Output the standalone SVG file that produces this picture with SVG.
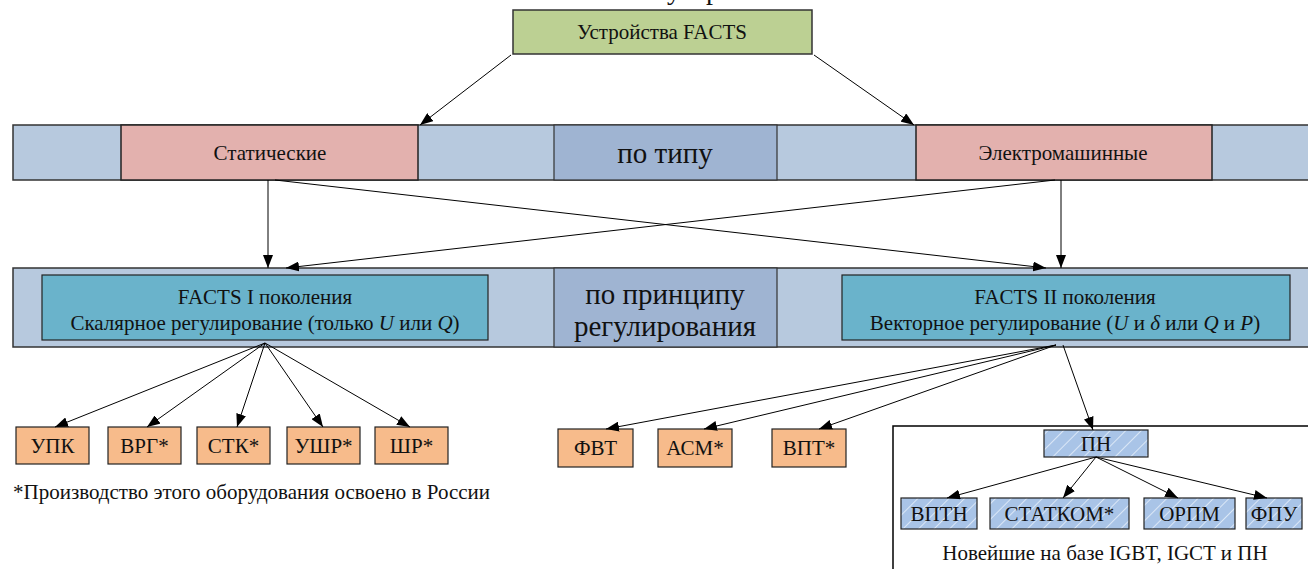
<svg xmlns="http://www.w3.org/2000/svg" width="1308" height="569" viewBox="0 0 1308 569" font-family="'Liberation Serif', 'DejaVu Serif', serif">
<style>
text{font-family:"Liberation Serif","DejaVu Serif",serif;fill:#111;}
.band{fill:#b7c9de;stroke:#333;stroke-width:1.5;}
.seg{fill:#9fb4d2;stroke:#333;stroke-width:1.2;}
.pink{fill:#e3b1ae;stroke:#222;stroke-width:1.5;}
.teal{fill:#6ab3cb;stroke:#222;stroke-width:1.2;}
.org{fill:#f7bb8b;stroke:#222;stroke-width:1.2;}
.hat{fill:url(#hatch);stroke:#222;stroke-width:1.2;}
.c{stroke:#000;stroke-width:1;fill:none;marker-end:url(#ah);}
.m{text-anchor:middle;}
</style>
<defs>
<marker id="ah" markerUnits="userSpaceOnUse" markerWidth="14" markerHeight="10" refX="13" refY="5" orient="auto">
<path d="M0,0 L13,5 L0,10 Z" fill="#000"/>
</marker>
<pattern id="hatch" patternUnits="userSpaceOnUse" width="11" height="11" patternTransform="rotate(45)">
<rect width="11" height="11" fill="#a9c4e7"/>
<line x1="0" y1="0" x2="0" y2="11" stroke="#e8f0fa" stroke-width="1.6"/>
</pattern>
</defs>

<text x="667" y="-1" font-size="28">устройств</text>

<g id="top">
<rect x="513" y="10" width="299" height="44" fill="#bcd093" stroke="#333" stroke-width="1.5"/>
<text x="662" y="39" class="m" font-size="21">Устройства FACTS</text>
</g>

<g id="band1">
<rect class="band" x="13" y="125" width="1310" height="55"/>
<rect class="seg" x="554" y="125" width="223" height="55"/>
<text x="665" y="163" class="m" font-size="29">по типу</text>
</g>
<g id="static">
<rect class="pink" x="121" y="125" width="297" height="55"/>
<text x="270" y="160" class="m" font-size="21">Статические</text>
</g>
<g id="electro">
<rect class="pink" x="916" y="125" width="296" height="55"/>
<text x="1063" y="160" class="m" font-size="21">Электромашинные</text>
</g>

<g id="band2">
<rect class="band" x="13" y="268" width="1310" height="79"/>
<rect class="seg" x="554" y="268" width="223" height="79"/>
<text x="665" y="304" class="m" font-size="29">по принципу</text>
<text x="665" y="336" class="m" font-size="29">регулирования</text>
</g>
<g id="facts1">
<rect class="teal" x="42" y="275" width="446" height="65"/>
<text x="265" y="304" class="m" font-size="21">FACTS I поколения</text>
<text x="265" y="330" class="m" font-size="21">Скалярное регулирование (только <tspan font-style="italic">U</tspan> или <tspan font-style="italic">Q</tspan>)</text>
</g>
<g id="facts2">
<rect class="teal" x="842" y="275" width="448" height="65"/>
<text x="1065" y="304" class="m" font-size="21">FACTS II поколения</text>
<text x="1065" y="330" class="m" font-size="21">Векторное регулирование (<tspan font-style="italic">U</tspan> и <tspan font-style="italic">δ</tspan> или <tspan font-style="italic">Q</tspan> и <tspan font-style="italic">P</tspan>)</text>
</g>

<g id="upk"><rect class="org" x="16" y="427" width="73" height="37"/><text x="52.5" y="453" class="m" font-size="21">УПК</text></g>
<g id="vrg"><rect class="org" x="108" y="427" width="73" height="37"/><text x="144.5" y="453" class="m" font-size="21">ВРГ*</text></g>
<g id="stk"><rect class="org" x="197" y="427" width="73" height="37"/><text x="233.5" y="453" class="m" font-size="21">СТК*</text></g>
<g id="ushr"><rect class="org" x="287" y="427" width="73" height="37"/><text x="323.5" y="453" class="m" font-size="21">УШР*</text></g>
<g id="shr"><rect class="org" x="375" y="427" width="73" height="37"/><text x="411.5" y="453" class="m" font-size="21">ШР*</text></g>
<text x="13" y="499" font-size="21">*Производство этого оборудования освоено в России</text>

<g id="fvt"><rect class="org" x="558" y="429" width="75" height="38"/><text x="595.5" y="455" class="m" font-size="21">ФВТ</text></g>
<g id="asm"><rect class="org" x="658" y="429" width="74" height="38"/><text x="695" y="455" class="m" font-size="21">АСМ*</text></g>
<g id="vpt"><rect class="org" x="772" y="429" width="74" height="38"/><text x="809" y="455" class="m" font-size="21">ВПТ*</text></g>

<g id="panel">
<rect x="893" y="426" width="430" height="160" fill="#fff" stroke="#000" stroke-width="1.5"/>
<text x="1105" y="560" class="m" font-size="21">Новейшие на базе IGBT, IGCT и ПН</text>
</g>
<g id="pn"><rect class="hat" x="1044" y="430" width="104" height="27"/><text x="1096" y="451" class="m" font-size="21">ПН</text></g>
<g id="vptn"><rect class="hat" x="901" y="498" width="76" height="31"/><text x="939" y="521" class="m" font-size="21">ВПТН</text></g>
<g id="statkom"><rect class="hat" x="990" y="498" width="139" height="31"/><text x="1059.5" y="521" class="m" font-size="21">СТАТКОМ*</text></g>
<g id="orpm"><rect class="hat" x="1144" y="498" width="91" height="31"/><text x="1189.5" y="521" class="m" font-size="21">ОРПМ</text></g>
<g id="fpu"><rect class="hat" x="1246" y="498" width="56" height="31"/><text x="1274" y="521" class="m" font-size="21">ФПУ</text></g>

<g id="connectors">
<line class="c" x1="511" y1="55" x2="420" y2="125"/>
<line class="c" x1="814" y1="55" x2="914" y2="125"/>
<line class="c" x1="268" y1="180" x2="268" y2="268"/>
<line class="c" x1="275" y1="180" x2="1046" y2="268"/>
<line class="c" x1="1061" y1="180" x2="1061" y2="268"/>
<line class="c" x1="1055" y1="180" x2="286" y2="268"/>
<line class="c" x1="265" y1="343" x2="55" y2="427"/>
<line class="c" x1="265" y1="343" x2="147" y2="427"/>
<line class="c" x1="265" y1="343" x2="237" y2="427"/>
<line class="c" x1="265" y1="343" x2="323" y2="427"/>
<line class="c" x1="265" y1="343" x2="410" y2="427"/>
<line class="c" x1="1056" y1="345" x2="606" y2="429"/>
<line class="c" x1="1056" y1="345" x2="704" y2="429"/>
<line class="c" x1="1056" y1="345" x2="819" y2="429"/>
<line class="c" x1="1063" y1="345" x2="1093" y2="430"/>
<line class="c" x1="1096" y1="457" x2="947" y2="498"/>
<line class="c" x1="1096" y1="457" x2="1063" y2="498"/>
<line class="c" x1="1096" y1="457" x2="1178" y2="498"/>
<line class="c" x1="1096" y1="457" x2="1267" y2="498"/>
</g>
</svg>
